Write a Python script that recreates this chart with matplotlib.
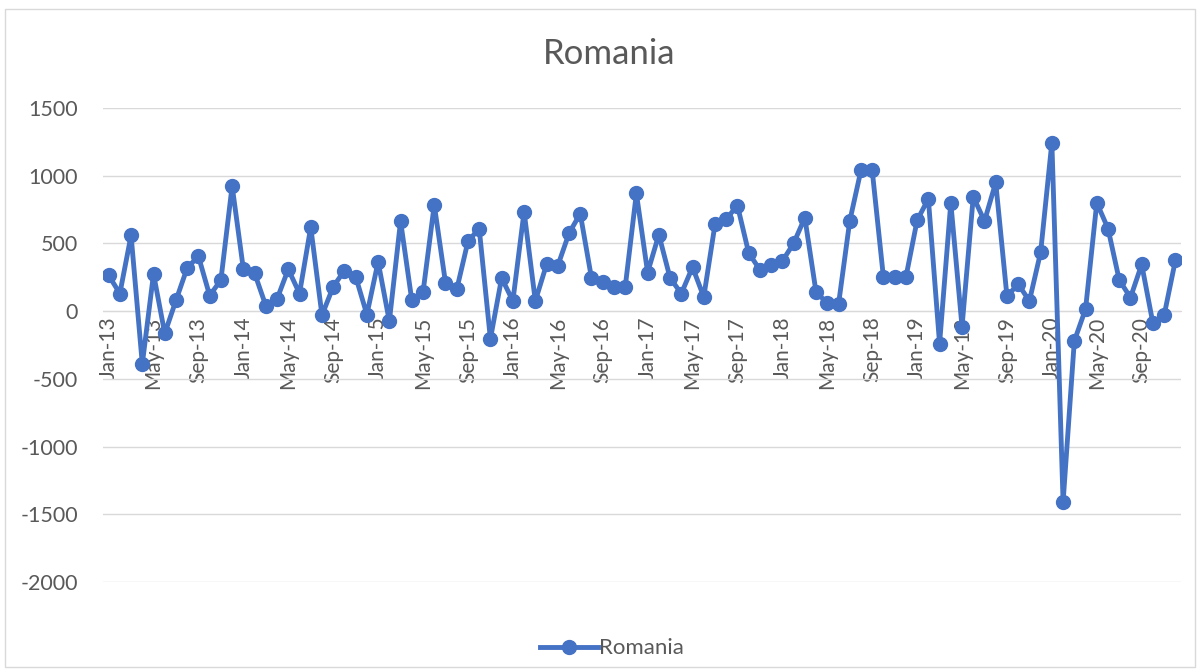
import matplotlib
matplotlib.use('Agg')
import matplotlib.pyplot as plt
from matplotlib.patches import Rectangle

months = ['Jan', 'Feb', 'Mar', 'Apr', 'May', 'Jun', 'Jul', 'Aug', 'Sep', 'Oct', 'Nov', 'Dec']
years = ['13', '14', '15', '16', '17', '18', '19', '20']
labels = [m + '-' + y for y in years for m in months]

values = [
    265, 130, 560, -390, 275, -165, 80, 320, 405, 115, 230, 925,
    310, 280, 40, 90, 310, 130, 620, -30, 180, 300, 255, -25,
    365, -75, 665, 80, 140, 785, 210, 160, 515, 610, -205, 245,
    75, 735, 75, 345, 335, 575, 720, 245, 215, 175, 175, 870,
    285, 565, 245, 130, 325, 105, 640, 680, 780, 430, 305, 340,
    370, 500, 690, 140, 60, 50, 665, 1040, 1040, 250, 250, 250,
    670, 830, -240, 800, -115, 845, 665, 950, 110, 200, 75, 435,
    1245, -1410, -220, 15, 800, 610, 230, 100, 345, -90, -30, 375,
]

blue = '#4472C4'
grey_text = '#595959'
plt.rcParams['font.family'] = ['Lato', 'DejaVu Sans']
plt.rcParams['axes.unicode_minus'] = False

fig = plt.figure(figsize=(11.99, 6.69), dpi=100)
fig.patches.append(Rectangle((0.004, 0.003), 0.993, 0.984, transform=fig.transFigure,
                             fill=False, edgecolor='#D9D9D9', linewidth=1))
ax = fig.add_axes([103 / 1199, 1 - 582 / 669, (1181 - 103) / 1199, (582 - 108) / 669])

x = list(range(len(values)))
ax.plot(x, values, color=blue, linewidth=3.5, marker='o', markersize=10,
        label='Romania', zorder=3)

ax.set_xlim(-0.5, len(values) - 0.5)
ax.set_ylim(-2000, 1500)
ax.set_yticks(range(-2000, 1501, 500))
ax.yaxis.grid(True, color='#D9D9D9', linewidth=1)
ax.set_axisbelow(True)
for s in ['top', 'right', 'left']:
    ax.spines[s].set_visible(False)
ax.spines['bottom'].set_position(('data', 0))
ax.spines['bottom'].set_color('#D9D9D9')

ax.set_xticks(x[::4])
ax.set_xticklabels(labels[::4], rotation=90, fontsize=15, color=grey_text)
ax.tick_params(axis='x', length=0, pad=4)
ax.tick_params(axis='y', length=0, labelsize=15.5, labelcolor=grey_text, pad=18)

fig.text(0.508, 0.92, 'Romania', ha='center', va='center', fontsize=25, color=grey_text)
ax.legend(loc='center', bbox_to_anchor=(0.472, -0.14), frameon=False, fontsize=16,
          labelcolor=grey_text, handlelength=2.6, handletextpad=0.05)

fig.savefig('out.png', dpi=100)
